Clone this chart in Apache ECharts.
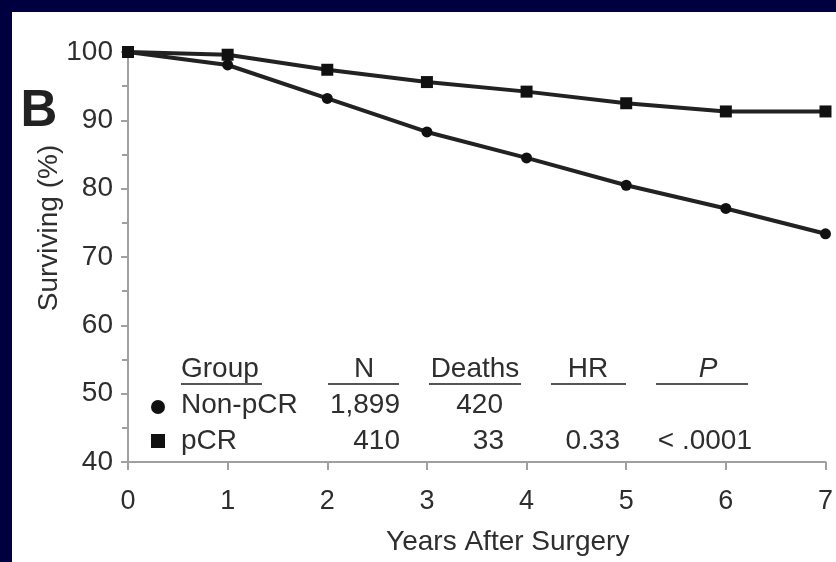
<!DOCTYPE html>
<html><head><meta charset="utf-8">
<script src="https://cdn.jsdelivr.net/npm/echarts@6/dist/echarts.min.js"></script>
<style>html,body{margin:0;padding:0;background:#000040;}#c{width:836px;height:562px;}</style>
</head><body><div id="c"></div>
<script>
const years = [0, 1, 2, 3, 4, 5, 6, 7];
const nonPCR = [100, 98.1, 93.2, 88.3, 84.5, 80.5, 77.1, 73.4];
const pCR = [100, 99.6, 97.4, 95.6, 94.2, 92.5, 91.3, 91.3];
const tableHeaders = ['Group', 'N', 'Deaths', 'HR', 'P'];
const rowNon = ['Non-pCR', '1,899', '420', '', ''];
const rowPCR = ['pCR', '410', '33', '0.33', '< .0001'];
const xTitle = 'Years After Surgery';
const yTitle = 'Surviving (%)';

const chart = echarts.init(document.getElementById('c'));
const txt = '#2e2e2e';
const font = '"Liberation Sans", Arial, sans-serif';
const fs = 28;

function t(x, y, s, align, style) {
  return {type: 'text', x: x, y: y, z: 10,
    style: {text: s, fill: txt, font: (style || '') + fs + 'px ' + font, textAlign: align || 'left', textVerticalAlign: 'middle'}};
}
function ul(x1, x2) {
  return {type: 'line', z: 10, shape: {x1: x1, y1: 384, x2: x2, y2: 384}, style: {stroke: '#555', lineWidth: 2}};
}
const rowY0 = 369, rowY1 = 405, rowY2 = 441;
const g = [
  {type: 'rect', shape: {x: 12, y: 12, width: 836, height: 562}, style: {fill: '#ffffff'}, z: -10},
  {type: 'text', x: 39, y: 112, z: 10, style: {text: 'B', fill: '#222', font: 'bold 51px ' + font, textAlign: 'center', textVerticalAlign: 'middle'}},
  {type: 'text', x: 49, y: 228, rotation: Math.PI / 2, z: 10, style: {text: yTitle, fill: txt, font: fs + 'px ' + font, textAlign: 'center', textVerticalAlign: 'middle'}},
  t(181, rowY0, tableHeaders[0]), t(364, rowY0, tableHeaders[1], 'center'), t(475, rowY0, tableHeaders[2], 'center'),
  t(588, rowY0, tableHeaders[3], 'center'), t(708, rowY0, tableHeaders[4], 'center', 'italic '),
  ul(181, 262), ul(328, 399), ul(429, 521), ul(551, 626), ul(656, 748),
  {type: 'circle', z: 10, shape: {cx: 158, cy: 407, r: 7}, style: {fill: '#111'}},
  {type: 'rect', z: 10, shape: {x: 151, y: 434, width: 14, height: 14}, style: {fill: '#111'}},
  t(181, rowY1, rowNon[0]), t(400, rowY1, rowNon[1], 'right'), t(503, rowY1, rowNon[2], 'right'),
  t(181, rowY2, rowPCR[0]), t(400, rowY2, rowPCR[1], 'right'), t(504, rowY2, rowPCR[2], 'right'),
  t(620, rowY2, rowPCR[3], 'right'), t(752, rowY2, rowPCR[4], 'right')
];

chart.setOption({
  backgroundColor: '#000040',
  animation: false,
  graphic: g,
  grid: {left: 128, right: 4, top: 52, bottom: 100, containLabel: false},
  xAxis: {
    type: 'value', min: 0, max: 7, interval: 1,
    name: xTitle, nameLocation: 'middle', nameGap: 66,
    nameTextStyle: {color: txt, fontSize: 28, fontFamily: font, padding: [0, 0, 0, 62]},
    axisLine: {lineStyle: {color: '#a0a0a0', width: 2}},
    axisTick: {show: true, length: 8, lineStyle: {color: '#a0a0a0', width: 2}},
    axisLabel: {color: txt, fontSize: 27, fontFamily: font, margin: 26},
    splitLine: {show: false}
  },
  yAxis: {
    type: 'value', min: 40, max: 100, interval: 10,
    axisLine: {show: true, lineStyle: {color: '#a0a0a0', width: 2}},
    axisTick: {show: true, length: 7, lineStyle: {color: '#a0a0a0', width: 2}},
    minorTick: {show: true, splitNumber: 2, length: 6, lineStyle: {color: '#a0a0a0', width: 2}},
    axisLabel: {color: txt, fontSize: 28, fontFamily: font, margin: 15},
    splitLine: {show: false}
  },
  series: [
    {name: 'Non-pCR', type: 'line', data: years.map((x, i) => [x, nonPCR[i]]),
      symbol: 'circle', symbolSize: 11, lineStyle: {color: '#222', width: 4}, itemStyle: {color: '#111'}},
    {name: 'pCR', type: 'line', data: years.map((x, i) => [x, pCR[i]]),
      symbol: 'rect', symbolSize: 12, lineStyle: {color: '#222', width: 4}, itemStyle: {color: '#111'}}
  ]
});
</script></body></html>
